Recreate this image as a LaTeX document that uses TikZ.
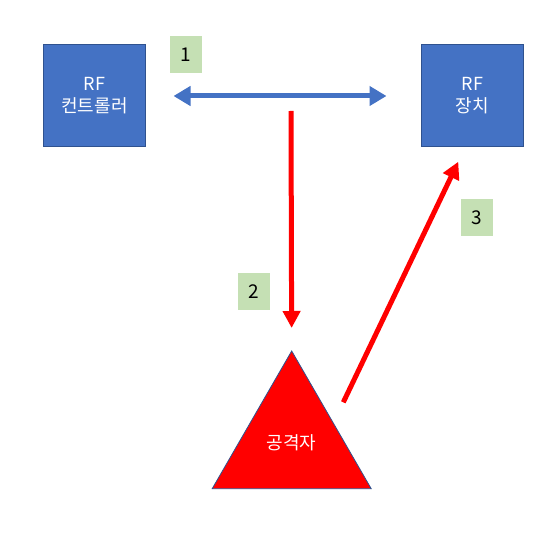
\documentclass[tikz,border=0pt]{standalone}
\usepackage{fontspec}
\setmainfont{Noto Sans CJK KR}
\usetikzlibrary{arrows.meta,shapes.geometric}
\definecolor{boxblue}{HTML}{4472C4}
\definecolor{edgeblue}{HTML}{2F528F}
\definecolor{lblgreen}{HTML}{C5E0B4}
\begin{document}
\begin{tikzpicture}[x=1pt,y=-1pt,
  rfbox/.style={draw=edgeblue,line width=1pt,fill=boxblue,minimum width=102pt,minimum height=102pt,inner sep=0pt,outer sep=0pt,text=white,font=\fontsize{18}{22}\selectfont,align=center},
  numlbl/.style={fill=lblgreen,minimum width=32pt,minimum height=37pt,inner sep=0pt,font=\fontsize{19}{20}\selectfont},
  attacker/.style={regular polygon,regular polygon sides=3,draw=edgeblue,line width=0.8pt,fill=red,minimum size=183.6pt,inner sep=0pt,outer sep=0pt,text=white,font=\fontsize{18}{20}\selectfont},
  bluearrow/.style={draw=boxblue,line width=5pt,{Triangle[width=19pt,length=17pt]}-{Triangle[width=19pt,length=17pt]}},
  redarrow/.style={draw=red,line width=5pt,-{Triangle[width=17pt,length=17pt]}}
]
\useasboundingbox (0,0) rectangle (560,537);
\node[rfbox] (ctrl) at (94.5,96) {RF\\컨트롤러};
\node[rfbox] (dev) at (472.5,96) {RF\\장치};
\node[attacker] (att) at (291.7,442.8) {\raisebox{-10pt}{공격자}};
\node[numlbl] (n1) at (186,55) {1};
\node[numlbl] (n2) at (254,292) {2};
\node[numlbl] (n3) at (477,217.5) {3};
\coordinate (mid) at (291,111);
\coordinate (start3) at (343.3,402.3);
\coordinate (tip3) at (458.3,161.7);
\draw[bluearrow,shorten <=28pt,shorten >=35pt] (ctrl.east) -- (dev.west);
\draw[redarrow,shorten >=23pt] (mid) -- (att.corner 1);
\draw[redarrow] (start3) -- (tip3);
\end{tikzpicture}
\end{document}
